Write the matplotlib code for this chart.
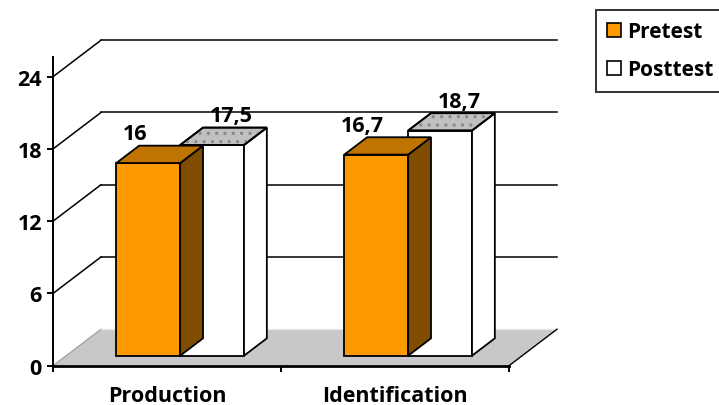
import matplotlib
matplotlib.use("Agg")
import matplotlib.pyplot as plt
from matplotlib.patches import Polygon, Patch

# ---- data ----
categories = ["Production", "Identification"]
series_names = ["Pretest", "Posttest"]
pretest = [16.0, 16.7]
posttest = [17.5, 18.7]
label_pre = ["16", "16,7"]
label_post = ["17,5", "18,7"]
yticks = [0, 6, 12, 18, 24]

# ---- style ----
FONT = "Open Sans"
FS = 15.5
plt.rcParams["font.family"] = [FONT, "DejaVu Sans"]
plt.rcParams["font.weight"] = "bold"
plt.rcParams["hatch.linewidth"] = 1.2

W_PX, H_PX = 719, 406
fig = plt.figure(figsize=(W_PX / 100, H_PX / 100), dpi=100)
ax = fig.add_axes([53 / W_PX, (H_PX - 366.7) / H_PX, 456 / W_PX, 289 / H_PX])
ax.set_xlim(0, 2)
ax.set_ylim(0, 24)
ax.patch.set_alpha(0)

DX = 48 / 228.0   # depth offset in x data units
DY = 3.03         # depth offset in y data units
D0, D1 = 0.274, 0.75
BW = 0.28

def P(x, y, d):
    return (x + d * DX, y + d * DY)

def poly(pts, **kw):
    p = Polygon(pts, closed=True, clip_on=False, **kw)
    ax.add_patch(p)
    return p

# floor
poly([P(0, 0, 0), P(2, 0, 0), P(2, 0, 1), P(0, 0, 1)],
     facecolor="#c8c8c8", edgecolor="none", zorder=1)
ax.plot(*zip(P(0, 0, 0), P(0, 0, 1)), color="#9a9a9a", lw=0.8, clip_on=False, zorder=1.5)
ax.plot(*zip(P(0, 0, 1), P(2, 0, 1)), color="#e6e6e6", lw=1.0, clip_on=False, zorder=1.5)
ax.plot(*zip(P(2, 0, 0), P(2, 0, 1)), color="black", lw=1.0, clip_on=False, zorder=1.5)

# gridlines on back wall + diagonals
for v in yticks[1:]:
    ax.plot(*zip(P(0, v, 1), P(2, v, 1)), color="black", lw=1.1, clip_on=False, zorder=2)
    ax.plot(*zip(P(0, v, 0), P(0, v, 1)), color="black", lw=1.1, clip_on=False, zorder=2)

pre_cols = dict(front="#ff9900", side="#7f4c00", top="#bf7300")
post_cols = dict(front="#ffffff", side="#ffffff", top="#c0c0c0")

def bar3d(x0, v, cols, z, dotted=False):
    x1 = x0 + BW
    kw = dict(edgecolor="black", lw=1.3, joinstyle="miter")
    poly([P(x0, 0, D0), P(x1, 0, D0), P(x1, v, D0), P(x0, v, D0)], facecolor=cols["front"], zorder=z, **kw)
    poly([P(x1, 0, D0), P(x1, 0, D1), P(x1, v, D1), P(x1, v, D0)], facecolor=cols["side"], zorder=z, **kw)
    top = [P(x0, v, D0), P(x1, v, D0), P(x1, v, D1), P(x0, v, D1)]
    poly(top, facecolor=cols["top"], zorder=z, **kw)
    if dotted:
        poly(top, facecolor="none", edgecolor="#8a8a8a", lw=0, hatch="..", zorder=z + 0.01)
        poly(top, facecolor="none", edgecolor="black", lw=1.3, zorder=z + 0.02)

for i in range(len(categories)):
    xc = i + 0.5
    # posttest drawn first, pretest on top (as in the reference)
    bar3d(xc, posttest[i], post_cols, 3 + i, dotted=True)
    bar3d(xc - BW, pretest[i], pre_cols, 3.5 + i)
    # data labels
    ax.text(xc - BW / 2 + D0 * DX - 0.06, pretest[i] + D0 * DY + 2.45, label_pre[i],
            ha="center", va="center", fontsize=FS, fontweight="bold", zorder=10)
    ax.text(xc + BW / 2 + D0 * DX + 0.083, posttest[i] + D0 * DY + 2.45, label_post[i],
            ha="center", va="center", fontsize=FS, fontweight="bold", zorder=10)

# axes
for s in ["top", "right"]:
    ax.spines[s].set_visible(False)
ax.spines["left"].set_bounds(0, 25.6)
ax.spines["left"].set_linewidth(1.4)
ax.spines["bottom"].set_linewidth(2.0)
ax.spines["left"].set_zorder(20)
ax.spines["bottom"].set_zorder(20)
ax.set_yticks(yticks)
ax.set_yticklabels([str(t) for t in yticks], fontsize=FS, fontweight="bold")
ax.tick_params(axis="y", direction="out", length=4, width=1.4, pad=4)
ax.set_xticks([0, 1, 2])
ax.set_xticklabels([])
ax.set_xticks([0.5, 1.5], minor=True)
ax.set_xticklabels(categories, minor=True, fontsize=FS, fontweight="bold")
ax.tick_params(axis="x", which="major", direction="out", length=4.5, width=1.4)
ax.tick_params(axis="x", which="minor", length=0, pad=14)

# legend
handles = [Patch(facecolor=pre_cols["front"], edgecolor="black", lw=1.2),
           Patch(facecolor="white", edgecolor="black", lw=1.2)]
leg = fig.legend(handles, series_names, loc="upper left",
                 bbox_to_anchor=(596 / W_PX, 1 - 11 / H_PX), borderaxespad=0,
                 fancybox=False, frameon=True, prop=dict(family=[FONT], weight="bold", size=15),
                 handlelength=0.65, handleheight=0.65, handletextpad=0.3,
                 borderpad=0.55, labelspacing=0.8)
leg.get_frame().set_edgecolor("black")
leg.get_frame().set_linewidth(1.4)

fig.savefig("out.png", dpi=100)
